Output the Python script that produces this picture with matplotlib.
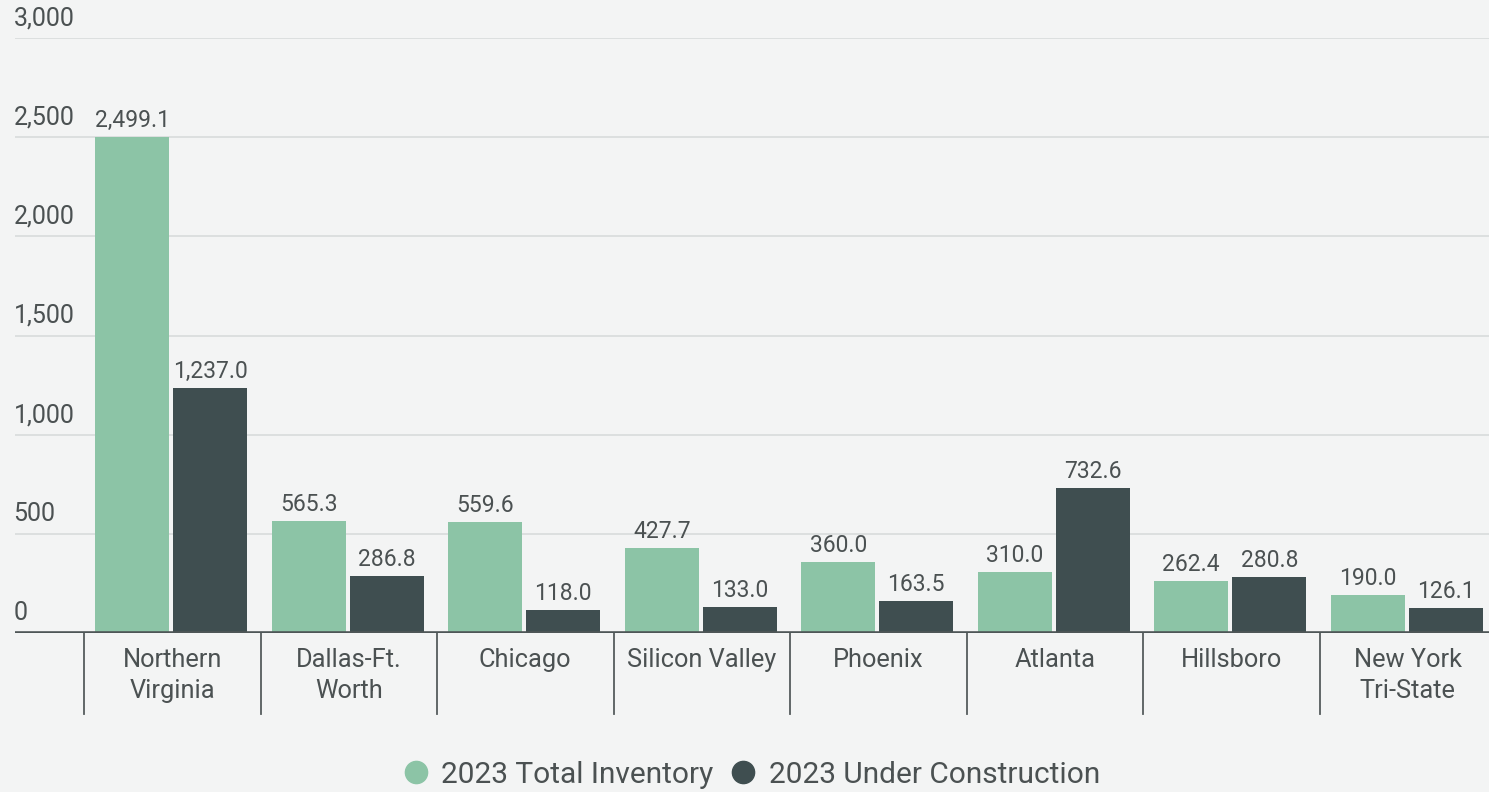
import numpy as np
import matplotlib
matplotlib.use("Agg")
import matplotlib.pyplot as plt
from matplotlib.lines import Line2D
from matplotlib.transforms import blended_transform_factory

# ─── Data ─────────────────────────────────────────────────────────────────────
markets = [
    "Northern\nVirginia",
    "Dallas-Ft.\nWorth",
    "Chicago",
    "Silicon Valley",
    "Phoenix",
    "Atlanta",
    "Hillsboro",
    "New York\nTri-State",
]
total_inventory = [2499.1, 565.3, 559.6, 427.7, 360.0, 310.0, 262.4, 190.0]
under_construction = [1237.0, 286.8, 118.0, 133.0, 163.5, 732.6, 280.8, 126.1]
y_ticks = [0, 500, 1000, 1500, 2000, 2500, 3000]
series_names = ["2023 Total Inventory", "2023 Under Construction"]

# ─── Style ────────────────────────────────────────────────────────────────────
BG = "#f3f4f4"
GREEN = "#8cc4a6"
DARK = "#3f4e50"
TEXT = "#4b5152"
GRID = "#d8dbdb"
plt.rcParams["font.family"] = ["Roboto", "DejaVu Sans"]

W, H = 1489, 792
fig = plt.figure(figsize=(W / 100, H / 100), dpi=100, facecolor=BG)

# axes placed in pixel terms: x from 15px to the right edge, y=0 at 633px, 3000 at 38px
left_px, y0_px, ytop_px = 15, 633, 38
ax = fig.add_axes([left_px / W, (H - y0_px) / H, (W - left_px) / W, (y0_px - ytop_px) / H])
ax.set_facecolor(BG)

group_px = 176.5
first_sep_px = 84
x_left = -0.5 - (first_sep_px - left_px) / group_px
x_right = -0.5 + (W - first_sep_px) / group_px
ax.set_xlim(x_left, x_right)
ax.set_ylim(0, 3000)

x = np.arange(len(markets))
bw = 74 / group_px
gap = 4 / group_px
off = (bw + gap) / 2

b1 = ax.bar(x - off - 1 / group_px, total_inventory, width=bw, color=GREEN, zorder=3)
b2 = ax.bar(x + off - 1 / group_px, under_construction, width=bw, color=DARK, zorder=3)

# horizontal grid + labels sitting on top of each line
for t in y_ticks[1:]:
    ax.axhline(t, color=GRID, lw=1.2, zorder=1)
for t in y_ticks:
    ax.text(-0.001, t + 38, f"{t:,}", transform=blended_transform_factory(ax.transAxes, ax.transData),
            ha="left", va="bottom", fontsize=18, color=TEXT)
ax.axhline(0, color="#4e5657", lw=2.6, zorder=4)

for bars, vals in [(b1, total_inventory), (b2, under_construction)]:
    for bar, v in zip(bars, vals):
        ax.text(bar.get_x() + bar.get_width() / 2, v + 25, f"{v:,.1f}",
                ha="center", va="bottom", fontsize=16.5, color=TEXT)

# category separators below the baseline
trans = blended_transform_factory(ax.transData, ax.transAxes)
for i in range(len(markets)):
    ax.add_line(Line2D([i - 0.5, i - 0.5], [0, -81 / 595], transform=trans,
                       color="#555c5d", lw=1.3, clip_on=False))
for i, name in enumerate(markets):
    ax.text(i, -15 / 595, name, transform=trans, ha="center", va="top",
            fontsize=18.3, color=TEXT, linespacing=1.35)

for s in ax.spines.values():
    s.set_visible(False)
ax.set_xticks([])
ax.set_yticks([])

handles = [
    Line2D([], [], marker="o", ls="none", markersize=16, color=GREEN),
    Line2D([], [], marker="o", ls="none", markersize=16, color=DARK),
]
fig.legend(handles, series_names, loc="lower center", bbox_to_anchor=(0.504, -0.03),
           ncol=2, frameon=False, fontsize=21.5, labelcolor=TEXT,
           handletextpad=0.35, columnspacing=0.5, handlelength=1.0)

fig.savefig("out.png", dpi=100, facecolor=BG)
